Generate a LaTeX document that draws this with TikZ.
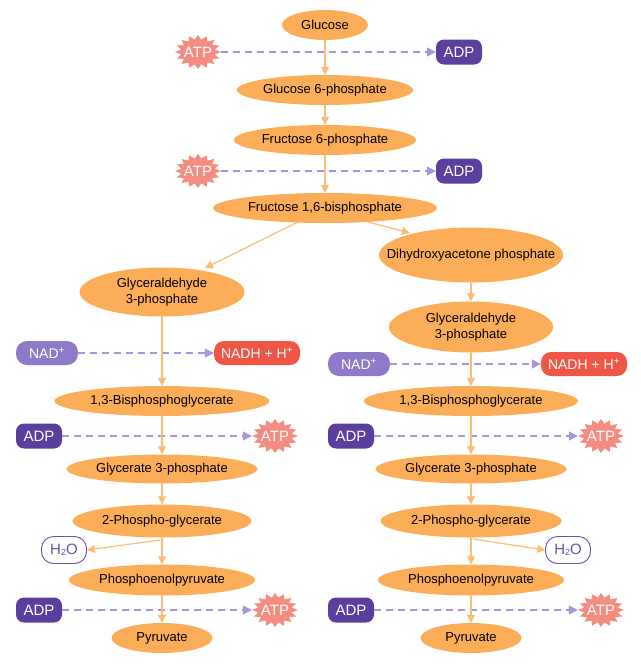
\documentclass[tikz,border=0pt]{standalone}
\usepackage{fontspec}
\setmainfont{Liberation Sans}
\usetikzlibrary{shapes.geometric,arrows.meta}
\definecolor{metc}{RGB}{251,173,88}
\definecolor{arrc}{RGB}{253,187,120}
\definecolor{atpc}{RGB}{245,140,130}
\definecolor{adpc}{RGB}{91,62,158}
\definecolor{nadc}{RGB}{142,122,200}
\definecolor{nadhc}{RGB}{239,86,70}
\definecolor{dashc}{RGB}{168,150,221}
\definecolor{h2oc}{RGB}{106,79,176}
\tikzset{
  met/.style={ellipse, fill=metc, inner sep=0pt, minimum height=30pt, align=center, font=\fontsize{13pt}{16pt}\selectfont, text=black},
  adpbox/.style={rectangle, rounded corners=8pt, fill=adpc, text=white, minimum width=46pt, minimum height=25pt, inner sep=0pt, font=\fontsize{15pt}{17pt}\selectfont},
  nadbox/.style={rectangle, rounded corners=11pt, fill=nadc, text=white, minimum width=62pt, minimum height=24pt, inner sep=0pt, font=\fontsize{14pt}{16pt}\selectfont},
  nadhbox/.style={rectangle, rounded corners=10pt, fill=nadhc, text=white, minimum width=86pt, minimum height=24pt, inner sep=0pt, font=\fontsize{14pt}{16pt}\selectfont},
  h2obox/.style={rectangle, rounded corners=12pt, draw=h2oc, line width=0.9pt, fill=white, text=h2oc, minimum width=45pt, minimum height=27pt, inner sep=0pt, font=\fontsize{15pt}{17pt}\selectfont},
  atpnode/.style={ellipse, inner sep=0pt, minimum width=46pt, minimum height=34pt, text=white, font=\fontsize{15pt}{17pt}\selectfont},
  flow/.style={draw=arrc, line width=1.2pt, -{Triangle[width=8pt,length=8pt]}},
  cofl/.style={draw=dashc, line width=1.2pt, dash pattern=on 7pt off 5pt, -{Triangle[width=9pt,length=9pt]}},
}
\newcommand\atpstar[2]{%
  \fill[atpc, shift={(#1,#2)}] (0:23 and 17) \foreach \k [evaluate=\k as \r using {ifthenelse(mod(\k,2)==0,1,0.74)}] in {1,...,31} { -- (\k*11.25:{23*\r} and {17*\r}) } -- cycle;}
\begin{document}
\begin{tikzpicture}[x=1pt,y=-1pt]
\useasboundingbox (0,0) rectangle (640,664);
% stars
\atpstar{198}{52}
\atpstar{198}{171}
\atpstar{275}{436}
\atpstar{601}{436}
\atpstar{275}{610}
\atpstar{601}{610}
% main chain
\node[met, minimum width=86pt] (glc) at (325,25) {Glucose};
\node[met, minimum width=176pt] (g6p) at (325,90) {Glucose 6-phosphate};
\node[met, minimum width=182pt] (f6p) at (325,140) {Fructose 6-phosphate};
\node[met, minimum width=224pt] (fbp) at (325,208) {Fructose 1,6-bisphosphate};
\node[met, minimum width=165pt, minimum height=49pt] (gapl) at (162,292) {Glyceraldehyde\\3-phosphate};
\node[met, minimum width=184pt, minimum height=55pt] (dhap) at (471,255) {\makebox[0pt]{Dihydroxyacetone phosphate}};
\node[met, minimum width=164pt, minimum height=51pt] (gapr) at (471,327) {Glyceraldehyde\\3-phosphate};
% left column
\node[met, minimum width=215pt] (bpgl) at (162,401) {1,3-Bisphosphoglycerate};
\node[met, minimum width=191pt, minimum height=29pt] (g3pl) at (162,469) {Glycerate 3-phosphate};
\node[met, minimum width=179pt, minimum height=33pt] (pgl) at (162,521) {2-Phospho-glycerate};
\node[met, minimum width=186pt, minimum height=31pt] (pepl) at (162,580) {Phosphoenolpyruvate};
\node[met, minimum width=101pt] (pyrl) at (162,638) {Pyruvate};
% right column
\node[met, minimum width=214pt] (bpgr) at (471,401) {1,3-Bisphosphoglycerate};
\node[met, minimum width=191pt, minimum height=29pt] (g3pr) at (471,469) {Glycerate 3-phosphate};
\node[met, minimum width=181pt, minimum height=33pt] (pgr) at (471,521) {2-Phospho-glycerate};
\node[met, minimum width=186pt, minimum height=31pt] (pepr) at (471,580) {Phosphoenolpyruvate};
\node[met, minimum width=101pt] (pyrr) at (471,638) {Pyruvate};
% cofactors
\node[atpnode] (atp1) at (198,52) {ATP};
\node[adpbox] (adp1) at (459,52) {ADP};
\node[atpnode] (atp2) at (198,171) {ATP};
\node[adpbox] (adp2) at (459,171) {ADP};
\node[nadbox] (nadl) at (47,353) {NAD\textsuperscript{+}};
\node[nadhbox] (nadhl) at (257,353) {NADH + H\textsuperscript{+}};
\node[nadbox] (nadr) at (359,364) {NAD\textsuperscript{+}};
\node[nadhbox] (nadhr) at (584,364) {NADH + H\textsuperscript{+}};
\node[adpbox] (adp3) at (39,436) {ADP};
\node[atpnode] (atp3) at (275,436) {ATP};
\node[adpbox] (adp4) at (351,436) {ADP};
\node[atpnode] (atp4) at (601,436) {ATP};
\node[h2obox] (h2ol) at (64,550) {H\raisebox{-1pt}{\fontsize{9pt}{10pt}\selectfont 2}O};
\node[h2obox] (h2or) at (568,550) {H\raisebox{-1pt}{\fontsize{9pt}{10pt}\selectfont 2}O};
\node[adpbox] (adp5) at (39,610) {ADP};
\node[atpnode] (atp5) at (275,610) {ATP};
\node[adpbox] (adp6) at (351,610) {ADP};
\node[atpnode] (atp6) at (601,610) {ATP};
% dashed cofactor arrows
\draw[cofl] (atp1.east) -- (adp1.west);
\draw[cofl] (atp2.east) -- (adp2.west);
\draw[cofl] (nadl.east) -- (nadhl.west);
\draw[cofl] (nadr.east) -- (nadhr.west);
\draw[cofl] (adp3.east) -- (atp3.west);
\draw[cofl] (adp4.east) -- (atp4.west);
\draw[cofl] (adp5.east) -- (atp5.west);
\draw[cofl] (adp6.east) -- (atp6.west);
% main flow
\draw[flow] (glc) -- (g6p);
\draw[flow] (g6p) -- (f6p);
\draw[flow] (f6p) -- (fbp);
\coordinate (fbpa) at (298,222);
\coordinate (fbpb) at (368,222);
\coordinate (gapla) at (205,268);
\coordinate (dhapa) at (410,233);
\draw[flow] (fbpa) -- (gapla);
\draw[flow] (fbpb) -- (dhapa);
\draw[flow] (dhap) -- (gapr);
\draw[flow] (gapl) -- (bpgl);
\draw[flow] (bpgl) -- (g3pl);
\draw[flow] (g3pl) -- (pgl);
\draw[flow] (pgl) -- (pepl);
\draw[flow] (pepl) -- (pyrl);
\draw[flow] (gapr) -- (bpgr);
\draw[flow] (bpgr) -- (g3pr);
\draw[flow] (g3pr) -- (pgr);
\draw[flow] (pgr) -- (pepr);
\draw[flow] (pepr) -- (pyrr);
\coordinate (wl) at (160,540);
\coordinate (wr) at (473,539);
\draw[flow] (wl) -- (h2ol.east);
\draw[flow] (wr) -- (h2or.west);
\end{tikzpicture}
\end{document}
